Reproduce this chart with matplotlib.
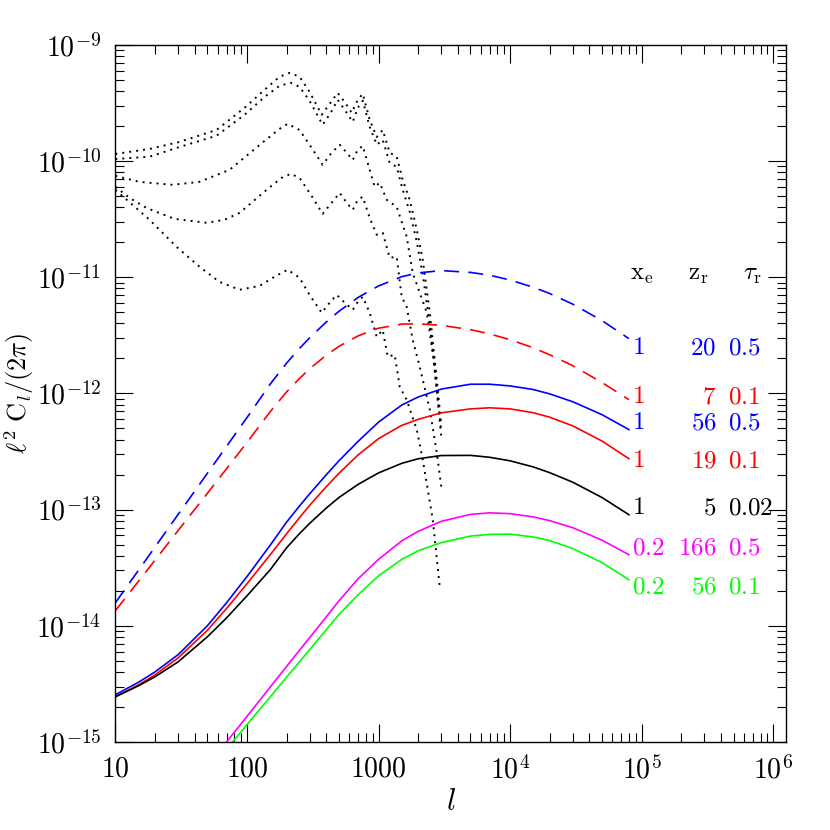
"""Reionization power spectra vs primary CMB"""

import numpy as np
import matplotlib
matplotlib.use("Agg")
import matplotlib.pyplot as plt
from matplotlib.ticker import LogLocator, NullFormatter

plt.rcParams['mathtext.fontset'] = 'cm'
plt.rcParams['font.family'] = 'serif'

# multipoles
l_fine = [10, 15, 20, 30, 50, 70, 100, 150, 200, 250, 300, 400, 500, 700,
          1000, 1500, 2000, 3000, 5000, 7000, 1e4, 1.5e4, 2e4, 3e4, 5e4, 8e4]
l_low = [65, 80, 100, 150, 200, 300, 400, 500, 700, 1000, 1500, 2000, 3000,
         5000, 7000, 1e4, 1.5e4, 2e4, 3e4, 5e4, 8e4]

# dashed curves
cl_blue_dash = [1.58e-14, 3.01e-14, 4.76e-14, 9.10e-14, 2.05e-13, 3.51e-13,
                6.19e-13, 1.20e-12, 1.82e-12, 2.43e-12, 3.01e-12, 4.11e-12,
                5.09e-12, 6.70e-12, 8.41e-12, 1.01e-11, 1.09e-11, 1.14e-11,
                1.10e-11, 1.04e-11, 9.46e-12, 8.20e-12, 7.24e-12, 5.86e-12,
                4.23e-12, 2.96e-12]
cl_red_dash = [1.35e-14, 2.42e-14, 3.67e-14, 6.61e-14, 1.38e-13, 2.25e-13,
               3.78e-13, 6.95e-13, 1.03e-12, 1.34e-12, 1.63e-12, 2.13e-12,
               2.54e-12, 3.13e-12, 3.64e-12, 3.95e-12, 3.97e-12, 3.85e-12,
               3.54e-12, 3.25e-12, 2.90e-12, 2.47e-12, 2.15e-12, 1.73e-12,
               1.24e-12, 8.83e-13]

# solid curves
cl_blue = [2.55e-15, 3.27e-15, 4.01e-15, 5.65e-15, 1.00e-14, 1.58e-14, 2.65e-14,
           4.93e-14, 7.80e-14, 1.07e-13, 1.37e-13, 1.99e-13, 2.63e-13, 3.87e-13,
           5.66e-13, 7.94e-13, 9.31e-13, 1.09e-12, 1.20e-12, 1.20e-12, 1.16e-12,
           1.08e-12, 9.91e-13, 8.47e-13, 6.56e-13, 4.88e-13]
cl_red = [2.45e-15, 3.10e-15, 3.78e-15, 5.30e-15, 9.14e-15, 1.41e-14, 2.30e-14,
          4.08e-14, 6.19e-14, 8.49e-14, 1.09e-13, 1.57e-13, 2.05e-13, 2.96e-13,
          4.08e-13, 5.31e-13, 5.98e-13, 6.81e-13, 7.36e-13, 7.52e-13, 7.36e-13,
          6.82e-13, 6.24e-13, 5.25e-13, 3.89e-13, 2.74e-13]
cl_black = [2.45e-15, 3.05e-15, 3.64e-15, 4.90e-15, 8.04e-15, 1.17e-14, 1.81e-14,
            3.03e-14, 4.69e-14, 6.19e-14, 7.62e-14, 1.03e-13, 1.27e-13, 1.65e-13,
            2.07e-13, 2.50e-13, 2.74e-13, 2.92e-13, 2.93e-13, 2.82e-13, 2.63e-13,
            2.33e-13, 2.08e-13, 1.72e-13, 1.27e-13, 9.04e-14]
cl_magenta = [9.02e-16, 1.21e-15, 1.66e-15, 2.96e-15, 4.47e-15, 7.93e-15,
              1.19e-14, 1.64e-14, 2.54e-14, 3.73e-14, 5.38e-14, 6.50e-14,
              7.93e-14, 9.10e-14, 9.38e-14, 9.23e-14, 8.65e-14, 8.04e-14,
              6.98e-14, 5.46e-14, 4.09e-14]
cl_green = [7.87e-16, 1.04e-15, 1.41e-15, 2.44e-15, 3.61e-15, 6.24e-15,
            9.23e-15, 1.25e-14, 1.85e-14, 2.69e-14, 3.73e-14, 4.42e-14,
            5.20e-14, 5.92e-14, 6.12e-14, 6.15e-14, 5.82e-14, 5.41e-14,
            4.62e-14, 3.50e-14, 2.49e-14]

# primary CMB (dotted)
l_cmb1 = [10, 18.2, 30.7, 58.7, 95.9, 136, 177, 211, 251, 299, 370, 425, 489,
          553, 625, 695, 759, 857, 969, 1076, 1216, 1374, 1527, 1726, 1954,
          2168, 2455, 2723, 3000]
cl_cmb1 = [1.15e-10, 1.27e-10, 1.46e-10, 1.85e-10, 2.87e-10, 4.10e-10, 5.31e-10,
           5.74e-10, 5.31e-10, 3.94e-10, 2.50e-10, 3.10e-10, 3.86e-10, 3.23e-10,
           2.60e-10, 3.36e-10, 3.79e-10, 2.26e-10, 1.61e-10, 1.85e-10, 1.18e-10,
           1.09e-10, 6.89e-11, 4.63e-11, 2.56e-11, 1.41e-11, 4.94e-12, 1.60e-12,
           5.37e-13]
l_cmb2 = [10, 18.2, 30.7, 58.7, 95.9, 136, 177, 215, 251, 299, 376, 433, 489,
          553, 637, 695, 759, 857, 969, 1076, 1216, 1374, 1527, 1726, 1954,
          2168, 2455, 2723, 3000]
cl_cmb2 = [1.04e-10, 1.09e-10, 1.32e-10, 1.65e-10, 2.50e-10, 3.56e-10, 4.44e-10,
           4.71e-10, 4.35e-10, 3.30e-10, 2.05e-10, 2.60e-10, 3.36e-10, 2.76e-10,
           2.17e-10, 2.87e-10, 3.30e-10, 1.97e-10, 1.38e-10, 1.52e-10, 9.64e-11,
           8.91e-11, 5.65e-11, 3.66e-11, 2.02e-11, 1.05e-11, 3.89e-12, 1.31e-12,
           4.67e-13]
l_cmb3 = [10, 15.2, 27.2, 43.6, 73.8, 131, 177, 204, 251, 310, 376, 440, 507,
          573, 637, 695, 759, 857, 935, 1021, 1155, 1374, 1500, 1637, 1820,
          2057, 2328, 2630, 3000]
cl_cmb3 = [7.46e-11, 6.62e-11, 6.24e-11, 6.62e-11, 8.40e-11, 1.44e-10, 1.89e-10,
           2.09e-10, 1.85e-10, 1.30e-10, 9.27e-11, 1.18e-10, 1.38e-10, 1.18e-10,
           1.02e-10, 1.25e-10, 1.35e-10, 8.40e-11, 6.00e-11, 6.49e-11, 4.63e-11,
           4.04e-11, 3.00e-11, 2.23e-11, 1.09e-11, 7.35e-12, 4.94e-12, 1.95e-12,
           4.23e-13]
l_cmb4 = [10, 12.8, 17.2, 28.1, 49.3, 67.5, 87.9, 141, 183, 215, 251, 310, 376,
          440, 507, 573, 637, 695, 759, 857, 969, 1076, 1216, 1374, 1500, 1637,
          1820, 2057, 2455, 2773, 3000]
cl_cmb4 = [6.00e-11, 4.82e-11, 3.95e-11, 3.18e-11, 2.94e-11, 3.12e-11, 3.58e-11,
           5.65e-11, 7.16e-11, 7.76e-11, 7.16e-11, 5.01e-11, 3.51e-11, 4.37e-11,
           5.32e-11, 4.37e-11, 3.80e-11, 4.63e-11, 4.92e-11, 3.24e-11, 2.32e-11,
           2.41e-11, 1.47e-11, 1.50e-11, 6.78e-12, 5.56e-12, 2.89e-12, 1.69e-12,
           7.23e-13, 3.08e-13, 1.57e-13]
l_cmb5 = [10, 18.2, 29.1, 43.6, 61.8, 87.9, 125, 162, 204, 251, 299, 370, 425,
          481, 553, 637, 695, 759, 857, 969, 1076, 1175, 1327, 1449, 1637, 1954,
          2168, 2585, 2924]
cl_cmb5 = [5.65e-11, 3.12e-11, 1.83e-11, 1.23e-11, 9.12e-12, 7.80e-12, 8.43e-12,
           1.01e-11, 1.16e-11, 9.89e-12, 7.05e-12, 4.94e-12, 6.03e-12, 7.05e-12,
           6.03e-12, 5.24e-12, 6.14e-12, 6.78e-12, 4.94e-12, 3.07e-12, 3.52e-12,
           2.07e-12, 2.15e-12, 1.14e-12, 8.81e-13, 4.86e-13, 2.69e-13, 8.17e-14,
           2.12e-14]

# table of models
xe_labels = ['1', '1', '1', '1', '1', '0.2', '0.2']
zr_labels = ['20', '7', '56', '19', '5', '166', '56']
tau_labels = ['0.5', '0.1', '0.5', '0.1', '0.02', '0.5', '0.1']

x_ticks = [10, 100, 1000, 1e4, 1e5, 1e6]
x_ticklabels = ['$10$', '$100$', '$1000$', '$10^4$', '$10^5$', '$10^6$']
y_ticks = [1e-15, 1e-14, 1e-13, 1e-12, 1e-11, 1e-10, 1e-9]
y_ticklabels = ['$10^{-15}$', '$10^{-14}$', '$10^{-13}$', '$10^{-12}$',
                '$10^{-11}$', '$10^{-10}$', '$10^{-9}$']


def main():
    fig = plt.figure(figsize=(8.3, 8.3), dpi=100)
    ax = fig.add_axes([0.139, 0.106, 0.808, 0.840])

    dots = (0, (1, 2.6))
    for ll, cl in [(l_cmb1, cl_cmb1), (l_cmb2, cl_cmb2), (l_cmb3, cl_cmb3),
                   (l_cmb4, cl_cmb4), (l_cmb5, cl_cmb5)]:
        ax.plot(ll, cl, color='black', lw=1.4, linestyle=dots)

    dash = (0, (9, 5.5))
    models = [
        (l_fine, cl_blue_dash, 'blue', dash),
        (l_fine, cl_red_dash, 'red', dash),
        (l_fine, cl_blue, 'blue', '-'),
        (l_fine, cl_red, 'red', '-'),
        (l_fine, cl_black, 'black', '-'),
        (l_low, cl_magenta, 'magenta', '-'),
        (l_low, cl_green, 'lime', '-'),
    ]
    # vertical nudge of each table row (points)
    row_dy = [-6.5, 2, 5, -1.5, 5, 5, -5]
    for i, (ll, cl, col, ls) in enumerate(models):
        ax.plot(ll, cl, color=col, lw=1.2, linestyle=ls)
        end = (ll[-1], cl[-1])
        kw = dict(xycoords='data', textcoords='offset points', color=col,
                  fontsize=18, va='center', annotation_clip=False)
        ax.annotate('$%s$' % xe_labels[i], end, xytext=(2.2, row_dy[i]),
                    ha='left', **kw)
        ax.annotate('$%s$' % zr_labels[i], end, xytext=(63, row_dy[i]),
                    ha='right', **kw)
        ax.annotate('$%s$' % tau_labels[i], end, xytext=(71, row_dy[i]),
                    ha='left', **kw)

    ax.text(0.767, 0.670, r'$\mathrm{x_e}$', transform=ax.transAxes,
            fontsize=18, va='center', ha='left')
    ax.text(0.854, 0.670, r'$\mathrm{z_r}$', transform=ax.transAxes,
            fontsize=18, va='center', ha='left')
    ax.text(0.936, 0.670, r'$\tau_\mathrm{r}$', transform=ax.transAxes,
            fontsize=18, va='center', ha='left')

    ax.set_xscale('log')
    ax.set_yscale('log')
    ax.set_xlim(10, 1.25e6)
    ax.set_ylim(1e-15, 1e-9)

    ax.set_xticks(x_ticks)
    ax.set_xticklabels(x_ticklabels)
    ax.set_yticks(y_ticks)
    ax.set_yticklabels(y_ticklabels)
    ax.xaxis.set_minor_locator(LogLocator(base=10, subs=np.arange(2, 10), numticks=20))
    ax.yaxis.set_minor_locator(LogLocator(base=10, subs=np.arange(2, 10), numticks=20))
    ax.xaxis.set_minor_formatter(NullFormatter())
    ax.yaxis.set_minor_formatter(NullFormatter())
    ax.tick_params(which='both', direction='in', top=True, right=True,
                   labelsize=20, width=0.8)
    ax.tick_params(which='major', length=13, pad=10)
    ax.tick_params(which='minor', length=6.5)
    for sp in ax.spines.values():
        sp.set_linewidth(1.0)

    ax.set_xlabel('$l$', fontsize=22)
    ax.set_ylabel(r'$\ell^2\ \mathrm{C}_l/(2\pi)$', fontsize=19)
    ax.xaxis.set_label_coords(0.5, -0.063)
    ax.yaxis.set_label_coords(-0.118, 0.5)

    fig.savefig('out.png', dpi=100)


if __name__ == '__main__':
    main()
